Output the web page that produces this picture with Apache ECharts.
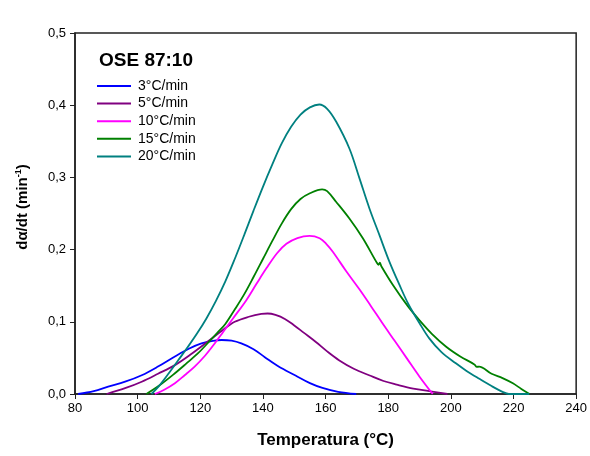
<!DOCTYPE html>
<html>
<head>
<meta charset="utf-8">
<script src="https://cdn.jsdelivr.net/npm/echarts@6/dist/echarts.min.js"></script>
<style>html,body{margin:0;padding:0;background:#fff}#c{width:590px;height:456px}</style>
</head>
<body>
<div id="c"></div>
<script>
const seriesNames = ['3°C/min', '5°C/min', '10°C/min', '15°C/min', '20°C/min'];
const seriesColors = ['#0000FF', '#800080', '#FF00FF', '#008000', '#008080'];

const t3 = [81, 86, 90.6, 96, 101.3, 106.5, 111.9, 116.5, 120.4, 124, 126.8, 130, 133.1, 137, 140.6, 145, 150.4, 155, 159, 164, 169.8];
const v3 = [0, 0.004, 0.0101, 0.017, 0.026, 0.038, 0.052, 0.063, 0.070, 0.0735, 0.0748, 0.0738, 0.070, 0.062, 0.051, 0.038, 0.0256, 0.015, 0.0084, 0.003, 0];

const t5 = [90.1, 96, 101.3, 106.5, 111.9, 117, 122.5, 127, 131, 135.5, 139.5, 141.5, 144, 147, 150, 153, 156.9, 160.5, 164.4, 169, 174.1, 178.5, 182.7, 188, 193.5, 198.9];
const v5 = [0, 0.008, 0.017, 0.028, 0.040, 0.055, 0.073, 0.088, 0.100, 0.107, 0.111, 0.1115, 0.1095, 0.104, 0.095, 0.085, 0.072, 0.059, 0.0465, 0.035, 0.0256, 0.018, 0.013, 0.0075, 0.0037, 0];

const t10 = [105.5, 108.5, 111.9, 115, 118.2, 121.5, 124.6, 127.3, 130.5, 134.7, 138, 141.1, 144.5, 147.5, 151, 154.9, 158.1, 160.2, 162.3, 166.6, 170.8, 174.6, 178, 182, 186, 190, 194.2];
const v10 = [0, 0.006, 0.015, 0.026, 0.038, 0.053, 0.070, 0.086, 0.105, 0.130, 0.153, 0.174, 0.195, 0.208, 0.216, 0.219, 0.2157, 0.208, 0.197, 0.170, 0.145, 0.121, 0.099, 0.074, 0.049, 0.024, 0];

const t15 = [102.8, 107, 111.9, 115.5, 119.3, 122.5, 125.5, 128, 131, 134, 137, 140, 143, 146, 149, 152, 155, 158.9, 160.5, 163.4, 167.6, 171.9, 176.2, 176.9, 177.3, 177.8, 181.5, 186.2, 190, 194, 198.5, 203, 207.5, 208.3, 209, 213, 216.5, 219.8, 222.5, 225.1];
const v15 = [0, 0.012, 0.0287, 0.042, 0.0565, 0.071, 0.085, 0.097, 0.117, 0.138, 0.162, 0.187, 0.212, 0.236, 0.256, 0.270, 0.278, 0.2835, 0.281, 0.266, 0.243, 0.2157, 0.183, 0.179, 0.182, 0.177, 0.151, 0.122, 0.102, 0.083, 0.0655, 0.052, 0.041, 0.0375, 0.038, 0.028, 0.022, 0.0148, 0.007, 0];

const t20 = [104.4, 107, 110, 113, 116, 119, 122, 125, 128, 131, 134, 137, 140, 143, 146, 149, 152, 155, 158, 160.5, 163.4, 167.6, 170.8, 174, 177.2, 180.4, 183.6, 186.5, 190, 193.1, 197, 201.6, 205, 209.1, 213, 216.5, 218.5, 225];
const v20 = [0, 0.012, 0.029, 0.047, 0.065, 0.084, 0.105, 0.129, 0.156, 0.187, 0.220, 0.254, 0.287, 0.318, 0.347, 0.370, 0.387, 0.397, 0.401, 0.395, 0.377, 0.340, 0.299, 0.257, 0.220, 0.183, 0.151, 0.124, 0.098, 0.077, 0.058, 0.0425, 0.032, 0.021, 0.011, 0.003, 0, 0];

const allT = [t3, t5, t10, t15, t20];
const allV = [v3, v5, v10, v15, v20];

const xTickMin = 80, xTickMax = 240, xTickStep = 20;
const yTickMin = 0, yTickMax = 0.5, yTickStep = 0.1;

const chart = echarts.init(document.getElementById('c'), null, {renderer: 'canvas'});
const FONT = 'Liberation Sans, Arial, sans-serif';

const series = seriesNames.map((name, i) => ({
  name: name,
  type: 'line',
  data: allT[i].map((t, j) => [t, allV[i][j]]),
  smooth: 0.35,
  showSymbol: false,
  symbol: 'none',
  lineStyle: {color: seriesColors[i], width: 1.8},
  itemStyle: {color: seriesColors[i]},
  z: 2 + i
}));

chart.setOption({
  animation: false,
  backgroundColor: '#fff',
  textStyle: {fontFamily: FONT},
  title: {
    text: 'OSE 87:10',
    left: 94, top: 46,
    textStyle: {fontFamily: FONT, fontSize: 19, fontWeight: 'bold', color: '#000'}
  },
  legend: {
    orient: 'vertical',
    left: 92, top: 74,
    itemWidth: 34, itemHeight: 10,
    itemGap: 3.6,
    icon: 'path://M0,4 L34,4 L34,6 L0,6 Z',
    textStyle: {fontFamily: FONT, fontSize: 14, color: '#000', padding: [0, 0, 0, 2]},
    data: seriesNames
  },
  grid: {
    left: 75, right: 13, top: 33, bottom: 62,
    show: true, borderColor: '#222', borderWidth: 1.5, backgroundColor: 'transparent'
  },
  xAxis: {
    type: 'value',
    min: xTickMin, max: xTickMax, interval: xTickStep,
    name: 'Temperatura (°C)',
    nameLocation: 'middle', nameGap: 38,
    nameTextStyle: {fontFamily: FONT, fontSize: 17, fontWeight: 'bold', color: '#000'},
    axisLine: {show: true, lineStyle: {color: '#222', width: 1.5}},
    axisTick: {show: true, inside: false, length: 5, lineStyle: {color: '#222'}},
    axisLabel: {fontFamily: FONT, fontSize: 13, color: '#000', margin: 8},
    splitLine: {show: false}
  },
  yAxis: {
    type: 'value',
    min: yTickMin, max: yTickMax, interval: yTickStep,
    name: 'dα/dt (min{sup|-1})',
    nameLocation: 'middle', nameGap: 44, nameRotate: 90,
    nameTextStyle: {
      fontFamily: FONT, fontSize: 15, fontWeight: 'bold', color: '#000',
      padding: [0, 0, 0, 13],
      rich: {sup: {fontFamily: FONT, fontSize: 9, fontWeight: 'bold', color: '#000', verticalAlign: 'top', padding: [0, 0, 8, 0]}}
    },
    axisLine: {show: true, lineStyle: {color: '#222', width: 1.5}},
    axisTick: {show: true, inside: false, length: 5, lineStyle: {color: '#222'}},
    axisLabel: {fontFamily: FONT, fontSize: 13, color: '#000', margin: 9,
      formatter: v => v.toFixed(1).replace('.', ',')},
    splitLine: {show: false}
  },
  series: series
});
</script>
</body>
</html>
